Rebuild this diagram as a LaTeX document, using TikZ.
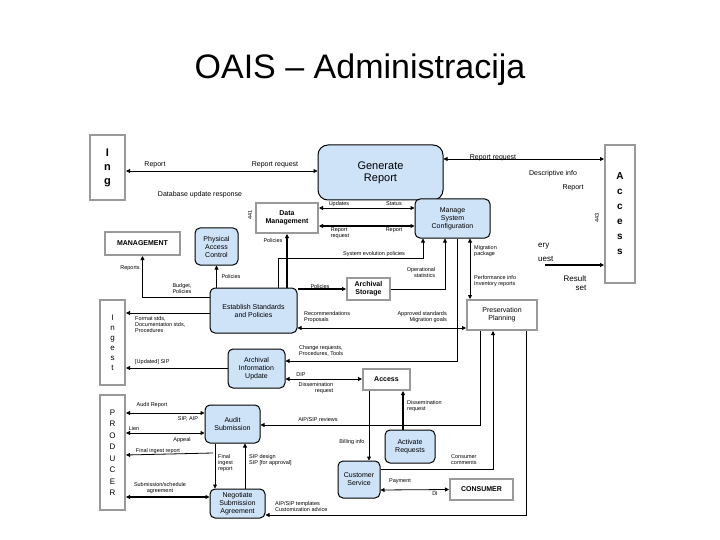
\documentclass[tikz,border=0pt]{standalone}
\usepackage{fontspec}
\setmainfont{Liberation Sans}
\usetikzlibrary{arrows.meta}
\definecolor{procblue}{RGB}{206,226,248}

\begin{document}
\begin{tikzpicture}[x=1pt,y=-1pt,
    proc/.style={draw,line width=1pt,rounded corners=5pt,fill=procblue,align=center,font=\fontsize{7}{8}\selectfont,inner sep=1pt},
    ext/.style={draw=gray!80,line width=2pt,fill=white,align=center,font=\bfseries\fontsize{7}{8}\selectfont,inner sep=1pt},
    lbl/.style={font=\fontsize{5.5}{6}\selectfont,align=left,inner sep=0pt},
    flow/.style={line width=0.8pt,-{Triangle[length=4pt,width=4pt]}},
    both/.style={line width=0.8pt,{Triangle[length=4pt,width=4pt]}-{Triangle[length=4pt,width=4pt]}}]
\useasboundingbox (0,0) rectangle (720,540);
\node[font=\fontsize{34}{36}\selectfont] (title) at (360,70) {OAIS -- Administracija};

% outside entities
\node[ext,minimum width=35,minimum height=65,font=\bfseries\fontsize{11}{14}\selectfont,text width=8] (ingT) at (107.5,167.5) {I\\n\\g};
\node[ext,minimum width=30,minimum height=138,font=\bfseries\fontsize{10}{15}\selectfont,text width=8] (accR) at (620,214) {A\\c\\c\\e\\s\\s};
\node[ext,minimum width=75,minimum height=23] (mgmt) at (142.5,243.5) {MANAGEMENT};
\node[ext,minimum width=25,minimum height=85,font=\fontsize{8}{10}\selectfont] (ingL) at (112.5,342.5) {I\\n\\g\\e\\s\\t};
\node[ext,minimum width=25,minimum height=115,font=\fontsize{8}{11.5}\selectfont] (prod) at (112.5,452.5) {P\\R\\O\\D\\U\\C\\E\\R};
\node[ext,minimum width=63,minimum height=21] (cons) at (481.5,489.5) {CONSUMER};
\node[ext,minimum width=62,minimum height=30] (dm) at (287,218) {Data\\Management};
\node[ext,minimum width=43,minimum height=22] (as) at (368.5,289) {Archival\\Storage};
\node[ext,minimum width=70,minimum height=30,font=\fontsize{7}{8}\selectfont] (pp) at (502,315) {Preservation\\Planning};
\node[ext,minimum width=47,minimum height=21] (acc) at (386.5,379.5) {Access};

% functions
\node[proc,minimum width=125,minimum height=55,rounded corners=10pt,font=\fontsize{11}{12}\selectfont] (gen) at (380.5,172.5) {Generate\\Report};
\node[proc,minimum width=75,minimum height=39] (msc) at (452.5,218.5) {Manage\\System\\Configuration};
\node[proc,minimum width=43,minimum height=37] (pac) at (216.5,246.5) {Physical\\Access\\Control};
\node[proc,minimum width=87,minimum height=45] (esp) at (253.5,310.5) {Establish Standards\\and Policies};
\node[proc,minimum width=57,minimum height=39] (aiu) at (256.5,368.5) {Archival\\Information\\Update};
\node[proc,minimum width=55,minimum height=38] (aud) at (232.5,424) {Audit\\Submission};
\node[proc,minimum width=50,minimum height=33] (actr) at (410,446.5) {Activate\\Requests};
\node[proc,minimum width=42,minimum height=37] (cs) at (359,479.5) {Customer\\Service};
\node[proc,minimum width=55,minimum height=29] (nsa) at (237.5,503.5) {Negotiate\\Submission\\Agreement};

% top flows
\draw[both] (ingT.east |- 0,171) -- (gen.west |- 0,171);
\node[lbl,font=\fontsize{7}{8}\selectfont] (l1) at (155,165) {Report};
\node[lbl,font=\fontsize{7}{8}\selectfont] (l2) at (275,165) {Report request};
\node[lbl,font=\fontsize{7}{8}\selectfont] (l3) at (200,195) {Database update response};
\draw[both] (gen.east |- 0,159) -- (accR.west |- 0,159);
\node[lbl,font=\fontsize{7}{8}\selectfont] (l4) at (493,158) {Report request};
\node[lbl,font=\fontsize{7}{8}\selectfont] (l5) at (553,174) {Descriptive info};
\node[lbl,font=\fontsize{7}{8}\selectfont] (l6) at (573,188) {Report};
\node[lbl,rotate=90] (l7) at (597,218) {443};
\node[lbl,rotate=90] (l8) at (250,215) {441};
\coordinate (qs) at (545,265);
\draw[flow,line width=1.2pt] (qs) -- (accR.west |- qs);
\node[lbl,font=\fontsize{8}{9}\selectfont,anchor=west] (l9) at (538,246) {ery};
\node[lbl,font=\fontsize{8}{9}\selectfont,anchor=west] (l10) at (538,259) {uest};
\node[lbl,font=\fontsize{8}{9}\selectfont,align=center] (l11) at (575,283) {Result\\\hspace{12pt}set};

% administration flows
\draw[both] (dm.east |- 0,208) -- (msc.west |- 0,208);
\draw[both,line width=1.2pt] (dm.east |- 0,226) -- (msc.west |- 0,226);
\node[lbl] at (339,204) {Updates};
\node[lbl] at (394,204) {Status};
\node[lbl] at (340,233) {Report\\request};
\node[lbl] at (394,230) {Report};
\draw[flow] (esp.west |- 0,297) -| (mgmt.south);
\node[lbl] at (130,268) {Reports};
\node[lbl,align=right] at (182,289) {Budget,\\Policies};
\draw[flow] (esp.north -| pac.south) -- (pac.south);
\node[lbl] at (231,277) {Policies};
\draw[flow,line width=1.2pt] (esp.north -| dm.south) -- (dm.south);
\node[lbl] at (273,241) {Policies};
\draw[flow] (esp.north -| 278,0) |- (423,258) -- (msc.south -| 423,0);
\node[lbl] at (374,254) {System evolution policies};
\draw[flow,line width=1.2pt] (esp.east |- as.west) -- (as.west);
\node[lbl] at (320,287) {Policies};
\draw[flow] (as.east) -| (msc.south -| 445,0);
\node[lbl,align=right] at (421,273) {Operational\\statistics};
\draw[both] (msc.south -| 470,0) -- (pp.north -| 470,0);
\node[lbl,anchor=west] at (474,251) {Migration\\package};
\node[lbl,anchor=west] at (474,281) {Performance info\\Inventory reports};
\draw[both] (esp.east |- 0,328) -- (pp.west |- 0,328);
\node[lbl,anchor=west] at (304,317) {Recommendations\\Proposals};
\node[lbl,align=right,anchor=east] at (447,317) {Approved standards\\Migration goals};
\draw[flow] (msc.south -| 457,0) |- (aiu.east |- 0,361);
\node[lbl,anchor=west] at (299,351) {Change requests,\\Procedures, Tools};

% ingest side
\draw[flow] (esp.west |- 0,313) -- (ingL.east |- 0,313);
\node[lbl,anchor=west] at (135,325) {Format stds,\\Documentation stds,\\Procedures};
\draw[flow] (aiu.west |- 0,368) -- (ingL.east |- 0,368);
\node[lbl,anchor=west] at (135,362) {[Updated] SIP};
\draw[both] (aiu.east |- 0,379) -- (acc.west |- 0,379);
\node[lbl] at (301,375) {DIP};
\node[lbl,align=right] at (316,388) {Dissemination\\request};
\draw[flow,line width=1.4pt] (actr.north -| 403,0) -- (acc.south -| 403,0);
\node[lbl,anchor=west] at (407,406) {Dissemination\\request};
\draw[flow] (acc.south -| 369,0) -- (cs.north -| 369,0);
\node[lbl] at (352,442) {Billing info};
\draw[flow] (pp.south -| 480,0) |- (aud.east |- 0,425);
\node[lbl] at (318,420) {AIP/SIP reviews};
\draw[flow] (cs.east |- 0,469) -| (pp.south -| 493,0);
\node[lbl,anchor=west] at (451,460) {Consumer\\comments};
\draw[both] (cs.east |- 0,490) -- (cons.west);
\node[lbl] at (400,481) {Payment};
\node[lbl] at (435,494) {DI};
\draw[flow] (pp.south -| 526,0) |- (nsa.east |- 0,515);
\node[lbl,anchor=west] at (275,507) {AIP/SIP templates\\Customization advice};

% producer side
\draw[both] (ingL.east |- 0,413) -- (aud.west |- 0,413);
\node[lbl] at (152,405) {Audit Report};
\node[lbl] at (188,419) {SIP, AIP};
\draw[both] (prod.east |- 0,433) -- (aud.west |- 0,433);
\node[lbl] at (134,429) {Lien};
\node[lbl] at (182,440) {Appeal};
\draw[flow] (213,453) -- (prod.east |- 0,455);
\node[lbl] at (158,451) {Final ingest report};
\draw[flow] (aud.south -| 215,0) -- (nsa.north -| 215,0);
\node[lbl,anchor=west] at (218,463) {Final\\ingest\\report};
\draw[flow] (nsa.north -| 245,0) -- (aud.south -| 245,0);
\node[lbl,anchor=west] at (249,460) {SIP design\\SIP [for approval]};
\draw[both,line width=1.3pt] (prod.east |- 0,497) -- (nsa.west |- 0,497);
\node[lbl,align=center] at (160,488) {Submission/schedule\\agreement};
\end{tikzpicture}
\end{document}
